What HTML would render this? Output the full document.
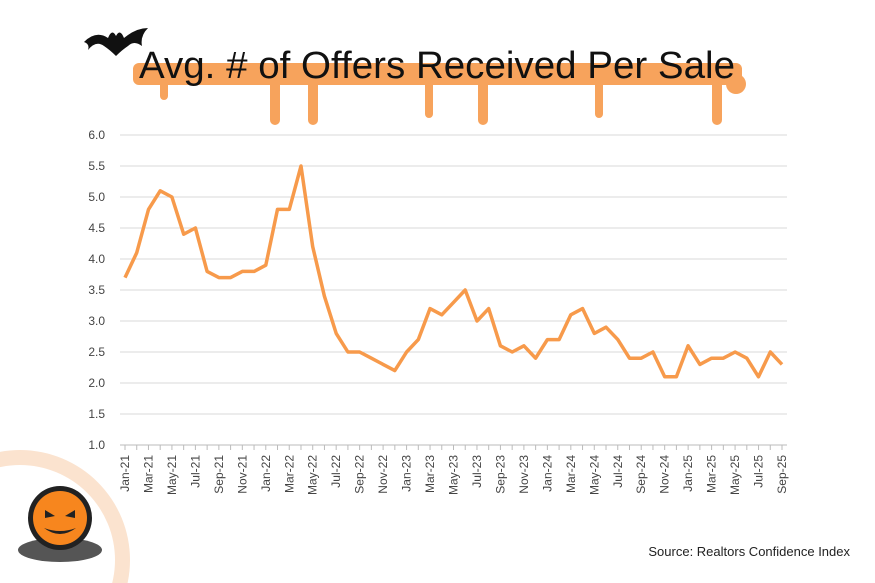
<!DOCTYPE html>
<html><head><meta charset="utf-8"><style>
html,body{margin:0;width:875px;height:583px;background:#fff;overflow:hidden;font-family:"Liberation Sans",sans-serif}
svg{display:block}
</style></head><body>
<svg width="875" height="583">
<g>
<circle cx="20" cy="560" r="110" fill="#fbe3cf"/>
<circle cx="20" cy="560" r="95" fill="#fff"/>
</g>
<g>
<path d="M84 42 Q96 30 108 38 Q112 28 116 36 Q120 28 124 38 Q136 28 148 28 Q140 36 142 46 Q134 40 128 46 Q122 50 116 56 Q110 50 104 46 Q96 40 88 50 Q90 44 84 42Z" fill="#111"/>
</g>
<g>
<rect x="133" y="63" width="609" height="22" rx="6" fill="#f7a35c"/>
<rect x="160" y="80" width="8" height="20" rx="4" fill="#f7a35c"/>
<rect x="270" y="80" width="10" height="45" rx="5" fill="#f7a35c"/>
<rect x="308" y="80" width="10" height="45" rx="5" fill="#f7a35c"/>
<rect x="425" y="80" width="8" height="38" rx="4" fill="#f7a35c"/>
<rect x="478" y="80" width="10" height="45" rx="5" fill="#f7a35c"/>
<rect x="595" y="80" width="8" height="38" rx="4" fill="#f7a35c"/>
<rect x="712" y="80" width="10" height="45" rx="5" fill="#f7a35c"/>
<ellipse cx="736" cy="84" rx="10" ry="10" fill="#f7a35c"/>
</g>
<text x="437" y="78" text-anchor="middle" font-size="38" textLength="596" lengthAdjust="spacingAndGlyphs" fill="#111">Avg. # of Offers Received Per Sale</text>
<g id="grid"></g><g id="yt"></g><g id="xt"></g>
<path id="line" fill="none" stroke="#f79a4b" stroke-width="3.5" stroke-linejoin="round"/>
<g>
<ellipse cx="60" cy="550" rx="42" ry="12" fill="#555"/>
<circle cx="60" cy="518" r="32" fill="#222"/>
<circle cx="60" cy="518" r="27" fill="#f7861e"/>
<path d="M45 510 L55 516 L45 518Z M75 510 L65 516 L75 518Z M44 528 Q60 540 76 528 Q60 534 44 528Z" fill="#222"/>
</g>
<text x="850" y="556" text-anchor="end" font-size="13" fill="#222">Source: Realtors Confidence Index</text>
</svg>
<script>
const months=["Jan","Feb","Mar","Apr","May","Jun","Jul","Aug","Sep","Oct","Nov","Dec"];
const values=[3.7,4.1,4.8,5.1,5.0,4.4,4.5,3.8,3.7,3.7,3.8,3.8,3.9,4.8,4.8,5.5,4.2,3.4,2.8,2.5,2.5,2.4,2.3,2.2,2.5,2.7,3.2,3.1,3.3,3.5,3.0,3.2,2.6,2.5,2.6,2.4,2.7,2.7,3.1,3.2,2.8,2.9,2.7,2.4,2.4,2.5,2.1,2.1,2.6,2.3,2.4,2.4,2.5,2.4,2.1,2.5,2.3];
const categories=[];for(let y=21;y<=25;y++)for(const m of months){if(categories.length<57)categories.push(m+"-"+y);}
const yTicks=[1.0,1.5,2.0,2.5,3.0,3.5,4.0,4.5,5.0,5.5,6.0];
const NS="http://www.w3.org/2000/svg";
const x=i=>125+i*(657/(values.length-1));
const y=v=>445-(v-1)*62;
const grid=document.getElementById('grid'),yt=document.getElementById('yt'),xt=document.getElementById('xt');
yTicks.forEach(t=>{
 const l=document.createElementNS(NS,'line');
 l.setAttribute('x1',120);l.setAttribute('x2',787);l.setAttribute('y1',y(t));l.setAttribute('y2',y(t));
 l.setAttribute('stroke',t===1?'#bbb':'#d9d9d9');l.setAttribute('stroke-width',1);
 
 
 grid.appendChild(l);
 const tx=document.createElementNS(NS,'text');
 tx.setAttribute('x',105);tx.setAttribute('y',y(t)+4);tx.setAttribute('text-anchor','end');
 tx.setAttribute('font-size','12');tx.setAttribute('fill','#444');tx.textContent=t.toFixed(1);
 
 
 yt.appendChild(tx);
});
values.forEach((v,i)=>{
 const tk=document.createElementNS(NS,'line');
 tk.setAttribute('x1',x(i));tk.setAttribute('x2',x(i));tk.setAttribute('y1',445);tk.setAttribute('y2',450);
 tk.setAttribute('stroke','#bbb');
 
 
 xt.appendChild(tk);
 if(i%2===0){
  const tx=document.createElementNS(NS,'text');
  tx.setAttribute('transform','translate('+(x(i)+4)+',455) rotate(-90)');
  tx.setAttribute('text-anchor','end');tx.setAttribute('font-size','12');tx.setAttribute('fill','#444');
  tx.textContent=categories[i];
  
  
  xt.appendChild(tx);
 }
});
document.getElementById('line').setAttribute('d',values.map((v,i)=>(i?'L':'M')+x(i).toFixed(1)+' '+y(v).toFixed(1)).join(' '));
</script>
</body></html>
